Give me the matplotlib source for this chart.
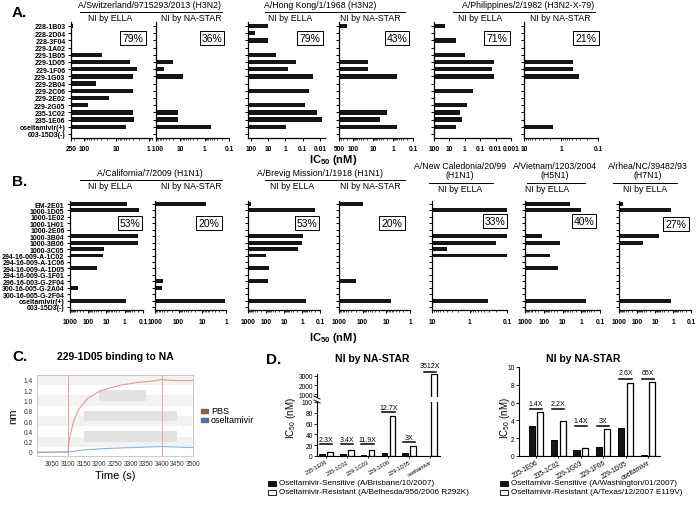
import matplotlib
matplotlib.use("Agg")
import matplotlib.pyplot as plt
from matplotlib.patches import Rectangle
from matplotlib.lines import Line2D
from matplotlib.ticker import NullFormatter

plt.rcParams['font.family'] = ['Liberation Sans', 'DejaVu Sans']
plt.rcParams['mathtext.fontset'] = 'custom'
plt.rcParams['mathtext.rm'] = 'Liberation Sans'
plt.rcParams['mathtext.bf'] = 'Liberation Sans:bold'
plt.rcParams['mathtext.it'] = 'Liberation Sans:italic'

# ---- data: panel A (H3N2 strains), IC50 in nM, None = no inhibition ----
rows_a = ['228-1B03', '228-2D04', '228-3F04', '229-1A02', '229-1B05', '229-1D05',
          '229-1F06', '229-1G03', '229-2B04', '229-2C06', '229-2E02', '229-2G05',
          '235-1C02', '235-1E06', 'oseltamivir(+)', '003-15D3(-)']
swiss_ella = [220, None, None, None, 28, 3.9, 2.4, 3.0, 42, 3.0, 17, 73, 3.0, 2.8, 5.1, None]
swiss_star = [None, None, None, None, None, 19.5, 46, 7.5, None, None, None, None, 12, 13, 0.56, None]
hk_ella = [10, 60, 10, None, 3.4, 0.23, 0.67, 0.026, None, 0.04, None, 0.076, 0.015, 0.007, 0.9, None]
hk_star = [200, None, None, None, None, 17.8, 17, 0.6, None, None, None, None, 2.0, 4.5, 0.6, None]
phil_ella = [18, None, 4, None, 1.0, 0.012, 0.016, 0.012, None, 0.29, None, 0.7, 2.0, 1.5, 4.0, None]
phil_star = [None, None, None, None, None, 0.46, 0.48, 0.32, None, None, None, None, None, None, 1.67, None]

# ---- data: panel B (H1N1, H5N1, H7N1 strains) ----
rows_b = ['EM-2E01', '1000-1D05', '1000-1E02', '1000-1H01', '1000-2E06', '1000-3B04',
          '1000-3B06', '1000-3C05', '294-16-009-A-1C02', '294-16-009-A-1C06',
          '294-16-009-A-1D05', '294-16-009-G-1F01', '296-16-003-G-2F04',
          '300-16-005-G-2A04', '300-16-005-G-2F04', 'oseltamivir(+)', '003-15D3(-)']
cal_ella = [0.78, 0.17, None, None, None, 0.19, 0.2, 14.6, 15, None, 35, None, None, 350, None, 0.9, None]
cal_star = [7, None, None, None, None, None, None, None, None, None, None, None, 460, 500, None, 1.1, None]
brev_ella = [680, 0.18, None, None, None, 0.85, 1.0, 1.7, 100, None, 65, None, 80, None, None, 0.6, None]
brev_star = [100, None, None, None, None, None, None, None, None, None, None, None, 200, 900, None, 6.6, None]
newcal_ella = [None, 0.1, None, None, None, 0.1, 0.2, 4, 0.1, None, None, None, None, None, None, 0.33, None]
viet_ella = [4.2, 1.0, None, None, None, 128, 13, None, 48, None, 18, None, None, None, None, 0.54, None]
rhea_ella = [600, 1.3, None, None, None, 6, 46, None, None, None, None, None, None, None, None, 1.3, None]

# ---- data: panel C (BLI sensorgram) ----
pbs_t = [3000, 3050, 3100, 3101, 3105, 3110, 3118, 3134, 3160, 3203, 3267, 3320, 3370, 3399, 3415, 3450, 3500]
pbs_y = [0, 0, 0, 0.12, 0.27, 0.42, 0.61, 0.83, 1.03, 1.19, 1.30, 1.35, 1.38, 1.41, 1.40, 1.39, 1.39]
osel_t = [3000, 3050, 3100, 3150, 3200, 3250, 3300, 3350, 3400, 3450, 3500]
osel_y = [-0.01, -0.005, 0.0, 0.04, 0.06, 0.075, 0.085, 0.095, 0.105, 0.095, 0.085]

# ---- data: panel D (NA-STAR, sensitive vs resistant) ----
d_cats = ['235-1E06', '235-1C02', '229-1G03', '229-1F06', '229-1D05', 'oseltamivir']
d1_sens = [3.0, 3.0, 1.0, 5.8, 6.0, 0.9]
d1_res = [7.0, 10.2, 11.9, 74, 18, 3150]
d1_fold = ['2.3X', '3.4X', '11.9X', '12.7X', '3X', '3512X']
d2_sens = [3.4, 1.75, 0.62, 1.0, 3.15, 0.13]
d2_res = [4.9, 3.9, 0.87, 3.0, 8.2, 8.3]
d2_fold = ['1.4X', '2.2X', '1.4X', '3X', '2.6X', '65X']

W, H = 698, 506
fig = plt.figure(figsize=(W / 100, H / 100), dpi=100)


def px_axes(x0, y0, x1, y1):
    return fig.add_axes([x0 / W, 1 - y1 / H, (x1 - x0) / W, (y1 - y0) / H])


def ftext(x, y, s, **kw):
    kw.setdefault('ha', 'center')
    kw.setdefault('va', 'center')
    return fig.text(x / W, 1 - y / H, s, **kw)


def fline(x0, x1, y0, y1, lw=0.8, color='black'):
    fig.add_artist(Line2D([x0 / W, x1 / W], [1 - y0 / H, 1 - y1 / H], lw=lw, color=color,
                          transform=fig.transFigure))


def bar_panel(x0, x1, y0, y1, rows, vals, xlim, ticks, labels, pct, pct_xy, show_rows=False):
    ax = px_axes(x0, y0, x1, y1)
    n = len(rows)
    ax.set_xscale('log')
    for i, v in enumerate(vals):
        if v is not None:
            ax.barh(i, xlim[0] - v, left=v, height=0.62, color='#151515', lw=0)
    ax.set_xlim(xlim)
    ax.set_ylim(n - 0.5, -0.5)
    ax.set_xticks(ticks)
    ax.set_xticklabels(labels, fontsize=4.8, fontweight='bold')
    ax.xaxis.set_minor_formatter(NullFormatter())
    ax.set_yticks(range(n))
    if show_rows:
        ax.set_yticklabels(rows, fontsize=5, fontweight='bold')
    else:
        ax.set_yticklabels([])
    ax.tick_params(axis='both', which='major', length=2.5, width=0.7, pad=1.5)
    ax.tick_params(axis='x', which='minor', length=1.3, width=0.5)
    ax.tick_params(axis='x', pad=3)
    for s in ['top', 'right']:
        ax.spines[s].set_visible(False)
    for s in ['left', 'bottom']:
        ax.spines[s].set_linewidth(0.9)
    ax.patch.set_alpha(0)
    ftext(pct_xy[0], pct_xy[1], pct, fontsize=7.5,
          bbox=dict(boxstyle='square,pad=0.2', fc='white', ec='black', lw=0.7))
    return ax


def header(cx, y, title, x0, x1, uy, sub):
    ftext(cx, y, title, fontsize=6.3, linespacing=1.0)
    fline(x0, x1, uy, uy, lw=0.7)
    for sx, st in sub:
        ftext(sx, uy + 6, st, fontsize=6.3)


# ---------------- Panel A ----------------
ftext(12, 13, 'A.', fontsize=11, fontweight='bold', ha='left')
header(150, 6, 'A/Switzerland/9715293/2013 (H3N2)', 80, 222, 12.5, [(110, 'NI by ELLA'), (191, 'NI by NA-STAR')])
header(320, 6, 'A/Hong Kong/1/1968 (H3N2)', 265, 405, 12.5, [(290, 'NI by ELLA'), (370, 'NI by NA-STAR')])
header(528, 6, 'A/Philippines/2/1982 (H3N2-X-79)', 453, 595, 12.5, [(480, 'NI by ELLA'), (560, 'NI by NA-STAR')])

ya0, ya1 = 23.4, 138.6
bar_panel(71, 152, ya0, ya1, rows_a, swiss_ella, (250, 0.8), [250, 100, 10, 1], ['250', '100', '10', '1'],
          '79%', (133, 39), show_rows=True)
bar_panel(156, 229, ya0, ya1, rows_a, swiss_star, (100, 0.1), [100, 10, 1, 0.1], [' 100', '10', '1', '0.1'],
          '36%', (212, 39))
bar_panel(248, 325, ya0, ya1, rows_a, hk_ella, (150, 0.005), [100, 10, 1, 0.1, 0.01],
          ['100', '10', '1', '0.1', '0.01'], '79%', (310, 39))
bar_panel(339, 413, ya0, ya1, rows_a, hk_star, (500, 0.1), [500, 100, 10, 1, 0.1],
          ['500', '100', '10', '1', '0.1'], '43%', (397, 39))
bar_panel(434, 511, ya0, ya1, rows_a, phil_ella, (100, 0.001), [100, 10, 1, 0.1, 0.01, 0.001],
          ['100', '10', '1', '0.1', '0.01', '0.001'], '71%', (497, 39))
bar_panel(524, 598, ya0, ya1, rows_a, phil_star, (10, 0.1), [10, 1, 0.1], ['10', '1', '0.1'],
          '21%', (586, 39))
ftext(333, 160, r'$\mathbf{IC_{50}}$ $\mathbf{(nM)}$', fontsize=8)

# ---------------- Panel B ----------------
ftext(12, 182, 'B.', fontsize=11, fontweight='bold', ha='left')
header(150, 174, 'A/California/7/2009 (H1N1)', 80, 222, 181, [(110, 'NI by ELLA'), (191, 'NI by NA-STAR')])
header(320, 174, 'A/Brevig Mission/1/1918 (H1N1)', 265, 405, 181, [(292, 'NI by ELLA'), (370, 'NI by NA-STAR')])
header(460, 171, 'A/New Caledonia/20/99\n(H1N1)', 429, 493, 183.5, [(460, 'NI by ELLA')])
header(555, 171, 'A/Vietnam/1203/2004\n(H5N1)', 527, 585, 183.5, [(547, 'NI by ELLA')])
header(648, 171, 'A/rhea/NC/39482/93\n(H7N1)', 613, 677, 183.5, [(645, 'NI by ELLA')])

yb0, yb1 = 201.8, 311.2
t4 = [1000, 100, 10, 1, 0.1]
l4 = ['1000', '100', '10', '1', '0.1']
bar_panel(70, 143, yb0, yb1, rows_b, cal_ella, (1000, 0.1), t4, l4, '53%', (130, 224), show_rows=True)
bar_panel(155, 226, yb0, yb1, rows_b, cal_star, (1000, 1), t4[:4], l4[:4], '20%', (209, 224))
bar_panel(248, 320, yb0, yb1, rows_b, brev_ella, (1000, 0.1), t4, l4, '53%', (307, 224))
bar_panel(339, 410, yb0, yb1, rows_b, brev_star, (1000, 1), t4[:4], l4[:4], '20%', (392, 224))
bar_panel(432, 507, yb0, yb1, rows_b, newcal_ella, (10, 0.1), [10, 1, 0.1], ['10', '1', '0.1'], '33%', (495, 222))
bar_panel(525, 600, yb0, yb1, rows_b, viet_ella, (1000, 0.1), t4, l4, '40%', (584, 222))
bar_panel(619, 691, yb0, yb1, rows_b, rhea_ella, (1000, 0.1), t4, l4, '27%', (676, 225))
ftext(333, 338, r'$\mathbf{IC_{50}}$ $\mathbf{(nM)}$', fontsize=8)

# ---------------- Panel C ----------------
ftext(12, 357, 'C.', fontsize=11, fontweight='bold', ha='left')
ftext(115, 357, '229-1D05 binding to NA', fontsize=7.5, fontweight='bold')
axc = px_axes(37, 376, 193, 457)
axc.set_xlim(3000, 3500)
axc.set_ylim(-0.078, 1.497)
for lo in [1.3, 0.9, 0.5, 0.1]:
    axc.axhspan(lo, lo + 0.2, color='#f2f2f2', lw=0, zorder=0)
for (xa, xb, ya, yb) in [(3200, 3350, 1.0, 1.2), (3150, 3450, 0.6, 0.8), (3150, 3450, 0.2, 0.4)]:
    axc.add_patch(Rectangle((xa, ya), xb - xa, yb - ya, color='#e2e2e2', lw=0, zorder=1))
axc.axvline(3100, color='#e9a3a3', lw=0.7, zorder=2)
axc.axvline(3400, color='#e9a3a3', lw=0.7, zorder=2)
axc.plot(pbs_t, pbs_y, color='#d9a097', lw=0.8, zorder=3)
axc.plot(osel_t, osel_y, color='#92b2d8', lw=0.8, zorder=3)
axc.set_xticks(range(3050, 3501, 50))
axc.set_yticks([0, 0.2, 0.4, 0.6, 0.8, 1.0, 1.2, 1.4])
axc.set_yticklabels(['0', '0.2', '0.4', '0.6', '0.8', '1.0', '1.2', '1.4'])
axc.tick_params(length=0, labelsize=4.8, labelcolor='#333333', pad=3)
for s in axc.spines.values():
    s.set_color('#c0c0c0')
    s.set_linewidth(0.6)
axc.set_xlabel('Time (s)', fontsize=8, labelpad=2)
axc.set_ylabel('nm', fontsize=8, labelpad=4)
for yy, col, lab in [(412, '#8c5b4b', 'PBS'), (421, '#4b6fa6', 'oseltamivir')]:
    fig.add_artist(Rectangle((201 / W, 1 - (yy + 2) / H), 7 / W, 4 / H, color=col,
                             transform=fig.transFigure))
    ftext(211, yy, lab, fontsize=6.5, ha='left')

# ---------------- Panel D ----------------
ftext(266, 360, 'D.', fontsize=11, fontweight='bold', ha='left')
ftext(372, 359, 'NI by NA-STAR', fontsize=7.5, fontweight='bold')
ftext(583, 359, 'NI by NA-STAR', fontsize=7.5, fontweight='bold')

xs = list(range(len(d_cats)))
bw = 0.27
off = 0.19


def style_d(ax):
    for s in ['top', 'right']:
        ax.spines[s].set_visible(False)
    for s in ['left', 'bottom']:
        ax.spines[s].set_linewidth(0.8)
    ax.tick_params(length=2, width=0.6, labelsize=4.8, pad=1)
    ax.tick_params(axis='x', length=1.5, pad=0.5)
    ax.patch.set_alpha(0)


# left chart with broken axis
dlo = px_axes(317, 403, 440, 457)
dhi = px_axes(317, 375, 440, 398)
for ax in (dlo, dhi):
    ax.bar([x - off for x in xs], d1_sens, width=bw, color='#151515', ec='black', lw=0.7)
    ax.bar([x + off for x in xs], d1_res, width=bw, color='white', ec='black', lw=0.9)
    ax.set_xlim(-0.43, 5.48)
    style_d(ax)
dlo.set_ylim(0, 100)
dlo.set_yticks([0, 20, 40, 60, 80, 100])
dhi.set_ylim(700, 3200)
dhi.set_yticks([1000, 2000, 3000])
dhi.spines['bottom'].set_visible(False)
dhi.set_xticks([])
dlo.set_xticks(xs)
dlo.set_xticklabels(d_cats, rotation=30, ha='right', rotation_mode='anchor', fontsize=4.1)
fline(314, 320, 397, 400, lw=0.7)
fline(314, 320, 401, 404, lw=0.7)
for i, lab in enumerate(d1_fold):
    if i < 5:
        ly = max(d1_res[i] + 8, 22)
        ax = dlo
        dt = 2
    else:
        ly = d1_res[i] + 300
        ax = dhi
        dt = 250
    ax.plot([i - 0.3, i + 0.3], [ly, ly], color='black', lw=1.1, clip_on=False)
    ax.text(i, ly + dt, lab, fontsize=5, ha='center', va='bottom', clip_on=False)
ftext(291, 418, r'IC$_{50}$ (nM)', fontsize=7, rotation=90)

# right chart
dr = px_axes(519, 368, 660, 457)
dr.bar([x - off for x in xs], d2_sens, width=bw, color='#151515', ec='black', lw=0.7)
dr.bar([x + off for x in xs], d2_res, width=bw, color='white', ec='black', lw=0.9)
dr.set_xlim(-0.76, 5.54)
dr.set_ylim(0, 10)
dr.set_yticks([0, 2, 4, 6, 8, 10])
dr.set_xticks(xs)
dr.set_xticklabels(d_cats, rotation=30, ha='right', rotation_mode='anchor', fontsize=4.1)
style_d(dr)
for p in range(3):
    top = max(d2_res[2 * p], d2_res[2 * p + 1]) + 0.4
    for i in (2 * p, 2 * p + 1):
        dr.plot([i - 0.27, i + 0.27], [top, top], color='black', lw=1.1, clip_on=False)
        dr.text(i, top + 0.25, d2_fold[i], fontsize=5, ha='center', va='bottom', clip_on=False)
ftext(505, 418, r'IC$_{50}$ (nM)', fontsize=7, rotation=90)

# legends for D
for lx, labs in [(268, ['Oseltamivir-Sensitive (A/Brisbane/10/2007)',
                        'Oseltamivir-Resistant (A/Bethesda/956/2006 R292K)']),
                 (500, ['Oseltamivir-Sensitive (A/Washington/01/2007)',
                        'Oseltamivir-Resistant (A/Texas/12/2007 E119V)'])]:
    for k, (yy, lab) in enumerate(zip([484, 493], labs)):
        fig.add_artist(Rectangle((lx / W, 1 - (yy + 2.5) / H), 8 / W, 5 / H,
                                 fc='#151515' if k == 0 else 'white', ec='black', lw=0.6,
                                 transform=fig.transFigure))
        ftext(lx + 11, yy, lab, fontsize=5.9, ha='left')

fig.savefig('out.png', dpi=100)
